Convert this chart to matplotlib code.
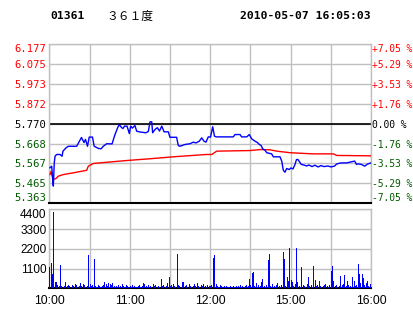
import matplotlib
matplotlib.use("Agg")
import matplotlib.pyplot as plt
import numpy as np

# ---------------- data ----------------
prev_close = 5.770
price_ticks = [5.363, 5.465, 5.567, 5.668, 5.770, 5.872, 5.973, 6.075, 6.177]
price_labels = ["5.363", "5.465", "5.567", "5.668", "5.770", "5.872", "5.973", "6.075", "6.177"]
pct_labels = ["-7.05 %", "-5.29 %", "-3.53 %", "-1.76 %", "0.00 %", "+1.76 %", "+3.53 %", "+5.29 %", "+7.05 %"]
vol_ticks = [1100, 2200, 3300, 4400]
vol_labels = ["1100", "2200", "3300", "4400"]
time_ticks = [0, 60, 120, 180, 240]
time_labels = ["10:00", "11:00", "12:00", "15:00", "16:00"]

price_min = [0.5, 1.8, 2.5, 3, 3.7, 4.3, 5.5, 8, 9.5, 10.2, 12.5, 14.2, 20.4, 24, 25.9, 27, 28.5,
             29.8, 32.2, 33.5, 36.6, 38.6, 40.3, 42.8, 46.8, 49, 51, 52.2, 54, 55, 56.1, 58, 59.7,
             60.7, 62, 63.9, 65.2, 67.7, 72.1, 73.9, 75.1, 76.4, 77.1, 78.9, 80.6, 82.2, 83.9, 85.6,
             88.8, 90, 95, 96.2, 97.5, 101.2, 105, 107.4, 109.4, 111.9, 113.7, 115.4, 116.9, 118.6,
             120.3, 121.9, 123.2, 124.4, 137.3, 138.5, 142.3, 143.5, 147.3, 149.2, 151, 153.5, 155.3,
             156.7, 158, 159.2, 160.9, 162.2, 165.9, 167.1, 172.1, 173.4, 174.6, 175.8, 177.1, 179,
             180.3, 181.8, 183.3, 184.4, 185.5, 188, 190, 192, 193.7, 196, 198.2, 200.5, 202.7, 204.9,
             207.9, 210.2, 212.9, 214.3, 216.9, 219.1, 222.1, 225.1, 227.8, 229.2, 230.3, 232.9,
             235.3, 237.4, 239.6]
price_val = [5.545, 5.553, 5.485, 5.451, 5.570, 5.604, 5.613, 5.613, 5.604, 5.630, 5.647, 5.655,
             5.655, 5.700, 5.674, 5.690, 5.655, 5.702, 5.702, 5.655, 5.644, 5.642, 5.655, 5.668,
             5.667, 5.715, 5.750, 5.766, 5.750, 5.746, 5.758, 5.758, 5.720, 5.758, 5.748, 5.761,
             5.732, 5.728, 5.724, 5.731, 5.780, 5.780, 5.724, 5.741, 5.750, 5.733, 5.758, 5.729,
             5.729, 5.701, 5.701, 5.659, 5.655, 5.664, 5.668, 5.676, 5.672, 5.681, 5.698, 5.681,
             5.676, 5.703, 5.702, 5.755, 5.707, 5.703, 5.703, 5.715, 5.715, 5.703, 5.703, 5.715,
             5.693, 5.681, 5.674, 5.664, 5.659, 5.642, 5.635, 5.622, 5.616, 5.601, 5.601, 5.579,
             5.532, 5.522, 5.541, 5.536, 5.544, 5.539, 5.562, 5.587, 5.587, 5.562, 5.559, 5.554,
             5.559, 5.551, 5.558, 5.549, 5.556, 5.551, 5.554, 5.549, 5.554, 5.564, 5.569, 5.570,
             5.570, 5.575, 5.579, 5.562, 5.565, 5.562, 5.553, 5.564, 5.569]

avg_min = [0.5, 1.3, 3, 5, 6.7, 10.4, 17.9, 27.9, 29.1, 32.8, 42.8, 57.7, 75.1, 92.5, 117.4,
           121.2, 124.9, 149.7, 157.2, 164.7, 169.6, 179.6, 196.7, 211.9, 214.4, 240]
avg_val = [5.510, 5.526, 5.485, 5.490, 5.502, 5.510, 5.519, 5.532, 5.553, 5.567, 5.573, 5.582,
           5.591, 5.601, 5.613, 5.613, 5.630, 5.633, 5.638, 5.637, 5.630, 5.622, 5.616, 5.616,
           5.608, 5.606]

volume = [
    1200, 1425, 800, 4270, 370, 350, 180, 120, 1300, 150, 100, 150, 340, 150, 200, 150, 100, 200, 150, 250,
    200, 100, 150, 300, 150, 250, 200, 100, 150, 1855, 250, 150, 200, 1630, 150, 100, 200, 150, 100, 150,
    200, 350, 250, 150, 300, 250, 200, 300, 150, 100, 150, 200, 100, 150, 250, 150, 100, 200, 150, 100,
    150, 100, 200, 150, 100, 50, 150, 200, 100, 150, 300, 250, 150, 100, 200, 150, 100, 250, 150, 200,
    100, 150, 100, 515, 150, 200, 100, 150, 300, 630, 150, 200, 250, 150, 100, 1910, 200, 150, 100, 350,
    350, 150, 200, 100, 250, 150, 100, 150, 250, 150, 300, 150, 100, 200, 150, 250, 150, 100, 200, 150,
    150, 200, 1670, 1855, 250, 150, 100, 200, 150, 100, 150, 100, 150, 100, 100, 150, 100, 150, 100, 150,
    100, 150, 200, 100, 150, 100, 150, 200, 150, 500, 200, 835, 925, 150, 300, 100, 200, 150, 350, 520,
    150, 100, 200, 1575, 1910, 150, 250, 100, 150, 200, 300, 150, 100, 200, 2040, 1630, 150, 610, 400, 2225,
    450, 350, 150, 250, 2260, 350, 150, 100, 1200, 200, 150, 100, 250, 650, 150, 200, 100, 1260, 460, 150,
    200, 400, 150, 100, 150, 200, 250, 150, 100, 200, 980, 1260, 400, 150, 200, 100, 150, 700, 200, 250,
    740, 150, 400, 200, 150, 100, 630, 400, 150, 200, 1370, 800, 300, 800, 560, 200, 300, 400, 150, 250,
]

# ---------------- styles ----------------
RED = "#ff0000"
GREEN = "#005a00"
BLUE = "#0000ff"
GRID = "#c0c0c0"
W, H = 414, 314

fig = plt.figure(figsize=(W / 100, H / 100), dpi=100)
fig.patch.set_facecolor("white")

def fx(px):
    return px / W

def fy(py):
    return 1 - py / H

L, R = 49.3, 371.0
ax = fig.add_axes([fx(L), fy(203.3), fx(R - L), (203.3 - 44.3) / H])
axv = fig.add_axes([fx(L), fy(288.3), fx(R - L), (288.3 - 209.3) / H])

def color_for(p):
    if p > prev_close + 1e-6:
        return RED
    if p < prev_close - 1e-6:
        return GREEN
    return "black"

# ---- price panel ----
ax.set_xlim(0, 240)
ax.set_ylim(price_ticks[0], price_ticks[-1])
for t in range(0, 241, 30):
    ax.axvline(t, color=GRID, lw=1.0, zorder=1)
for p in price_ticks:
    ax.axhline(p, color=GRID, lw=1.0, zorder=1)
ax.axhline(prev_close, color="black", lw=1.2, zorder=2)
ax.plot(avg_min, avg_val, color=RED, lw=1.0, zorder=3)
ax.plot(price_min, price_val, color=BLUE, lw=1.0, zorder=4, clip_on=False)
for s in ["left", "right", "top"]:
    ax.spines[s].set_color(GRID)
    ax.spines[s].set_linewidth(1.0)
ax.spines["bottom"].set_color("black")
ax.spines["bottom"].set_linewidth(1.5)
ax.set_xticks([])
ax.set_yticks(price_ticks)
ax.set_yticklabels(price_labels, family="DejaVu Sans Mono", fontsize=7.6)
ax.tick_params(axis="y", length=0, pad=2)
ylbls = ax.get_yticklabels()
for lbl, p in zip(ylbls, price_ticks):
    lbl.set_color(color_for(p))
ylbls[0].set_verticalalignment("bottom")
ylbls[-1].set_verticalalignment("top")

ax2 = ax.twinx()
ax2.set_ylim(price_ticks[0], price_ticks[-1])
ax2.set_yticks(price_ticks)
ax2.set_yticklabels(pct_labels, family="DejaVu Sans Mono", fontsize=6.9)
ax2.tick_params(axis="y", length=0, pad=1)
rlbls = ax2.get_yticklabels()
for lbl, p in zip(rlbls, price_ticks):
    lbl.set_color(color_for(p))
rlbls[0].set_verticalalignment("bottom")
rlbls[-1].set_verticalalignment("top")
for s in ax2.spines.values():
    s.set_visible(False)

# ---- volume panel ----
axv.set_xlim(0, 240)
axv.set_ylim(0, 4400)
for t in range(0, 241, 30):
    axv.axvline(t, color=GRID, lw=1.0, zorder=1)
for v in vol_ticks:
    axv.axhline(v, color=GRID, lw=1.0, zorder=1)
axv.bar(np.arange(len(volume)), volume, width=0.75, align="edge", color=BLUE, lw=0,
        zorder=3, antialiased=False)
for s in ["left", "right", "top"]:
    axv.spines[s].set_color(GRID)
    axv.spines[s].set_linewidth(1.0)
axv.spines["bottom"].set_color("black")
axv.spines["bottom"].set_linewidth(1.5)
axv.set_yticks(vol_ticks)
axv.set_yticklabels(vol_labels, family="Liberation Sans", fontsize=8.5)
axv.tick_params(axis="y", length=0, pad=2)
axv.get_yticklabels()[-1].set_verticalalignment("top")
axv.set_xticks(time_ticks)
axv.set_xticklabels(time_labels, family="Liberation Sans", fontsize=8.8)
axv.tick_params(axis="x", length=0, pad=5)

# ---- header ----
fig.text(fx(50), fy(16), "01361", family="DejaVu Sans Mono", weight="bold", fontsize=8.2,
         ha="left", va="center")
fig.text(fx(106), fy(16), "３６１度", family=["Noto Sans CJK SC", "DejaVu Sans"], fontsize=8.5,
         ha="left", va="center")
fig.text(fx(371), fy(16), "2010-05-07 16:05:03", family="DejaVu Sans Mono", weight="bold",
         fontsize=8.2, ha="right", va="center")

fig.savefig("out.png", dpi=100, facecolor="white")
